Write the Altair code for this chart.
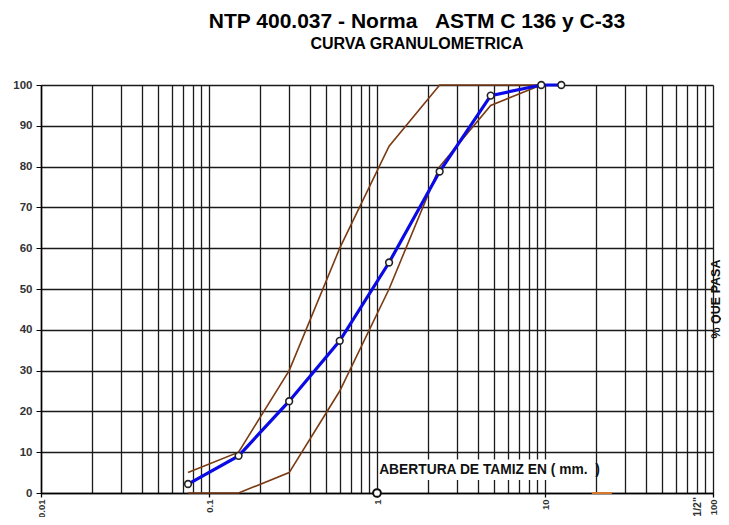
import altair as alt
import pandas as pd

# ---- data ----
sieve_mm = [0.075, 0.15, 0.3, 0.6, 1.18, 2.36, 4.75, 9.5, 12.5]
passing = [2.2, 9.1, 22.5, 37.3, 56.5, 78.8, 97.4, 100, 100]

limit_mm = [0.075, 0.15, 0.3, 0.6, 1.18, 2.36, 4.75, 9.5]
upper_limit = [5, 10, 30, 60, 85, 100, 100, 100]
lower_limit = [0, 0, 5, 25, 50, 80, 95, 100]

extra_x = [1.0]
extra_y = [0]
seg_x = [19, 25]
seg_y = [0, 0]

y_ticks = [0, 10, 20, 30, 40, 50, 60, 70, 80, 90, 100]
x_grid = [m * 10 ** e for e in range(-2, 2) for m in range(1, 10)] + [100]

FONT = "Liberation Sans"

blue_df = pd.DataFrame({"x": sieve_mm, "y": passing})
lim_df = pd.concat([
    pd.DataFrame({"x": limit_mm, "y": upper_limit, "s": "sup"}),
    pd.DataFrame({"x": limit_mm, "y": lower_limit, "s": "inf"}),
])
extra_df = pd.DataFrame({"x": extra_x, "y": extra_y})
seg_df = pd.DataFrame({"x": seg_x, "y": seg_y})
box_df = pd.DataFrame({"x": [1.035], "x2": [19.5], "y": [3.2], "y2": [8.2]})
lab_df = pd.DataFrame({"x": [1.03], "y": [5.6], "t": ["ABERTURA DE TAMIZ EN ( mm.\u00a0\u00a0)"]})
half_df = pd.DataFrame({"x": [81.0], "y": [-1.0], "t": ['1/2"']})
side_df = pd.DataFrame({"t": ["% QUE PASA"]})

decade = "abs(log(datum.value)/LN10 - round(log(datum.value)/LN10)) < 0.001"

X = alt.X(
    "x:Q",
    scale=alt.Scale(type="log", domain=[0.01, 100], nice=False),
    axis=alt.Axis(
        values=x_grid, grid=True, gridColor="#1a1a1a", gridWidth=1.3, gridOpacity=1,
        domainColor="#000000", domainWidth=1.5,
        tickColor="#000000", tickSize=4, tickWidth=1.3,
        tickOpacity={"condition": {"test": decade, "value": 1}, "value": 0},
        labelExpr=decade + " ? ('' + datum.value) : ''",
        labelAngle=270, labelFontSize=9.5, labelFontWeight="bold", labelColor="#333333",
        labelFont=FONT, labelPadding=2, labelFlush=False, labelOverlap=False, title=None,
    ),
)
Y = alt.Y(
    "y:Q",
    scale=alt.Scale(domain=[0, 100], nice=False),
    axis=alt.Axis(
        values=y_ticks, grid=True, gridColor="#1a1a1a", gridWidth=1.3, gridOpacity=1,
        domainColor="#000000", domainWidth=1.5, tickColor="#000000", tickSize=5,
        labelFontSize=11.5, labelFontWeight="bold", labelColor="#333333", labelFont=FONT,
        labelPadding=4, title=None,
    ),
)

box = alt.Chart(box_df).mark_rect(fill="white", stroke=None).encode(x=X, x2="x2:Q", y=Y, y2="y2:Q")

limits = alt.Chart(lim_df).mark_line(color="#7a3a12", strokeWidth=1.6).encode(
    x=X, y=Y, detail="s:N"
)
seg = alt.Chart(seg_df).mark_line(color="#d9772b", strokeWidth=2).encode(x=X, y=Y)
blue = alt.Chart(blue_df).mark_line(color="#0a0ae6", strokeWidth=3.2).encode(x=X, y=Y)
pts = alt.Chart(blue_df).mark_point(
    shape="circle", filled=True, fill="white", stroke="#222222", strokeWidth=1.6, size=45, opacity=1
).encode(x=X, y=Y)
extra = alt.Chart(extra_df).mark_point(
    shape="circle", filled=True, fill="white", stroke="#111111", strokeWidth=2, size=60, opacity=1
).encode(x=X, y=Y)

label = alt.Chart(lab_df).mark_text(
    align="left", baseline="middle", font=FONT, fontSize=13.8, fontWeight="bold", color="#111111"
).encode(x=X, y=Y, text="t:N")
half = alt.Chart(half_df).mark_text(
    align="right", baseline="middle", angle=270, font=FONT, fontSize=10.5, fontWeight="bold", color="#333333"
).encode(x=X, y=Y, text="t:N")
side = alt.Chart(side_df).mark_text(
    align="center", baseline="middle", angle=270, font=FONT, fontSize=12.5, fontWeight="bold", color="#111111"
).encode(x=alt.value(674.5), y=alt.value(214), text="t:N")

chart = alt.layer(box, limits, seg, blue, pts, extra, label, half, side).properties(
    width=672,
    height=408,
    autosize=alt.AutoSizeParams(type="none"),
    padding={"left": 33, "top": 77, "right": 8, "bottom": 24},
    title=alt.Title(
        text="NTP 400.037 - Norma\u00a0\u00a0\u00a0ASTM C 136 y C-33",
        subtitle="CURVA GRANULOMETRICA",
        font=FONT, subtitleFont=FONT, fontSize=21, subtitleFontSize=16,
        fontWeight="bold", subtitleFontWeight="bold", color="#000000", subtitleColor="#000000",
        anchor="middle", dx=40, offset=26, subtitlePadding=4,
    ),
).configure_view(stroke=None)

chart.save("out.html", embed_options={"renderer": "svg", "actions": False})
